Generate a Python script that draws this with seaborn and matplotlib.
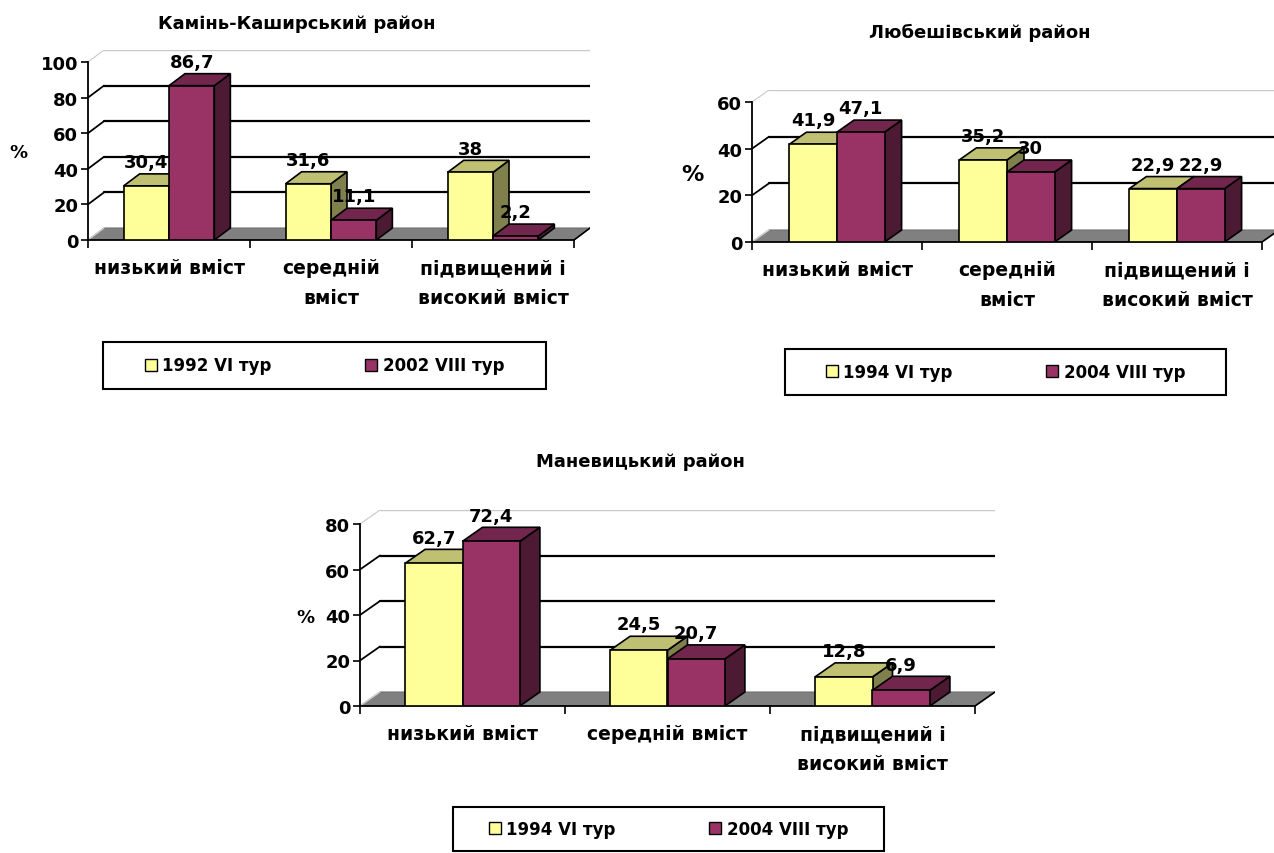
import pandas as pd
import matplotlib.pyplot as plt
import seaborn as sns
from matplotlib.patches import Polygon, Patch, Rectangle

W, H = 1274, 854

cats_two_line = ["низький вміст", "середній\nвміст", "підвищений і\nвисокий вміст"]
cats_one_line = ["низький вміст", "середній вміст", "підвищений і\nвисокий вміст"]

kk_title = "Камінь-Каширський район"
kk_series = ["1992 VI тур", "2002 VIII тур"]
kk_first = [30.4, 31.6, 38]
kk_second = [86.7, 11.1, 2.2]

lb_title = "Любешівський район"
lb_series = ["1994 VI тур", "2004 VIII тур"]
lb_first = [41.9, 35.2, 22.9]
lb_second = [47.1, 30, 22.9]

mn_title = "Маневицький район"
mn_series = ["1994 VI тур", "2004 VIII тур"]
mn_first = [62.7, 24.5, 12.8]
mn_second = [72.4, 20.7, 6.9]

# front, top, side shades
YELLOW = ("#FFFF99", "#C0C073", "#80804D")
PLUM = ("#993366", "#73264D", "#4D1A33")

sns.set_theme(style="white")
plt.rcParams["font.family"] = ["DejaVu Sans"]
plt.rcParams["font.weight"] = "bold"
for k in ["text.color", "axes.labelcolor", "xtick.color", "ytick.color"]:
    plt.rcParams[k] = "black"

fig = plt.figure(figsize=(W / 100, H / 100), dpi=100)


def fmt(v):
    return f"{v:g}".replace(".", ",")


def panel(box, depth, cats, first, second, series, ymax, step, fs=13):
    x0, x1, y0, y1 = box
    dx, dy = depth
    ax = fig.add_axes([x0 / W, 1 - (y0) / H, (x1 + dx - x0) / W, (y0 - y1 + dy) / H])
    ddx = dx * 3 / (x1 - x0)
    ddy = dy * ymax / (y0 - y1)

    df = pd.DataFrame({
        "cat": cats * 2,
        "val": first + second,
        "series": [series[0]] * 3 + [series[1]] * 3,
    })
    sns.barplot(data=df, x="cat", y="val", hue="series",
                palette=[YELLOW[0], PLUM[0]], width=0.56, gap=0,
                saturation=1, edgecolor="black", linewidth=1.2,
                ax=ax, legend=False)
    bars = sorted([p for p in ax.patches if isinstance(p, plt.Rectangle)],
                  key=lambda p: p.get_x())
    ax.set_xlim(-0.5, 2.5 + ddx)
    ax.set_ylim(0, ymax + ddy)
    ax.set_xlabel("")
    ax.set_ylabel("")

    # floor and back wall
    ax.add_patch(Polygon([(-0.5, 0), (2.5, 0), (2.5 + ddx, ddy), (-0.5 + ddx, ddy)],
                         closed=True, facecolor="#808080", edgecolor="#707070",
                         lw=0.8, zorder=0.8))
    ax.plot([-0.5, -0.5 + ddx], [0, ddy], color="#D0D0D0", lw=1, zorder=0.9)
    ax.plot([2.5, 2.5 + ddx], [0, ddy], color="black", lw=1.2, zorder=0.9)
    ticks = list(range(0, ymax + 1, step))
    for t in ticks[1:]:
        top = t == ymax
        c = "#C8C8C8" if top else "black"
        lw = 1 if top else 1.6
        ax.plot([-0.5 + ddx, 2.5 + ddx], [t + ddy, t + ddy], color=c, lw=lw, zorder=1)
        ax.plot([-0.5, -0.5 + ddx], [t, t + ddy], color=c, lw=lw * 0.8, zorder=1)

    # 3d faces on the seaborn bars
    for i, b in enumerate(bars):
        shade = YELLOW if i % 2 == 0 else PLUM
        x, w, h = b.get_x(), b.get_width(), b.get_height()
        z = 3 + i * 0.1
        ax.add_patch(Polygon([(x + w, 0), (x + w, h), (x + w + ddx, h + ddy), (x + w + ddx, ddy)],
                             closed=True, facecolor=shade[2], edgecolor="black", lw=1.2, zorder=z))
        ax.add_patch(Polygon([(x, h), (x + w, h), (x + w + ddx, h + ddy), (x + ddx, h + ddy)],
                             closed=True, facecolor=shade[1], edgecolor="black", lw=1.2, zorder=z))
        b.set_zorder(z + 0.05)
        ax.annotate(fmt(h), (x + w / 2, h + ddy), xytext=(0, 2), textcoords="offset points",
                    ha="center", va="bottom", fontsize=fs, fontweight="bold", zorder=10)

    for s in ["top", "right"]:
        ax.spines[s].set_visible(False)
    ax.spines["left"].set_bounds(0, ymax)
    ax.spines["bottom"].set_bounds(-0.5, 2.5)
    for s in ["left", "bottom"]:
        ax.spines[s].set_color("black")
        ax.spines[s].set_linewidth(1.3)
    ax.set_yticks(ticks)
    ax.set_yticklabels([str(t) for t in ticks], fontsize=fs, fontweight="bold")
    ax.set_xticks([0, 1, 2])
    ax.set_xticklabels(cats, fontsize=13.5, fontweight="bold", linespacing=1.75)
    ax.set_xticks([-0.5, 0.5, 1.5, 2.5], minor=True)
    ax.tick_params(axis="y", left=True, length=5, width=1.2, color="black", pad=2)
    ax.tick_params(axis="x", which="major", length=0, pad=13)
    ax.tick_params(axis="x", which="minor", bottom=True, length=6, width=1.2, color="black")
    return ax


def legend(series, box, spacing):
    # box in pixels: left, top, right, bottom
    l, t, r, b = box
    fig.patches.append(Rectangle((l / W, 1 - b / H), (r - l) / W, (b - t) / H,
                                 transform=fig.transFigure, facecolor="white",
                                 edgecolor="black", lw=1.5, zorder=5))
    handles = [Patch(facecolor=YELLOW[0], edgecolor="black", lw=1),
               Patch(facecolor=PLUM[0], edgecolor="black", lw=1)]
    leg = fig.legend(handles, series, loc="center",
                     bbox_to_anchor=((l + r) / 2 / W, 1 - (t + b) / 2 / H),
                     ncol=2, frameon=False, handlelength=0.7, handleheight=0.7,
                     handletextpad=0.35, columnspacing=spacing, borderpad=0,
                     prop={"size": 12, "weight": "bold"})
    leg.set_zorder(6)


panel((88, 574, 241, 63), (16, 12), cats_two_line, kk_first, kk_second, kk_series, 100, 20)
panel((752, 1262, 243, 103), (17, 12), cats_two_line, lb_first, lb_second, lb_series, 60, 20)
panel((360, 975, 707, 525), (20, 14), cats_one_line, mn_first, mn_second, mn_series, 80, 20)

fig.text(297 / W, 1 - 24 / H, kk_title, ha="center", va="center", fontsize=13, fontweight="bold")
fig.text(980 / W, 1 - 33 / H, lb_title, ha="center", va="center", fontsize=13, fontweight="bold")
fig.text(640 / W, 1 - 462 / H, mn_title, ha="center", va="center", fontsize=13, fontweight="bold")

fig.text(18 / W, 1 - 153 / H, "%", ha="center", va="center", fontsize=13, fontweight="bold")
fig.text(692 / W, 1 - 175 / H, "%", ha="center", va="center", fontsize=16, fontweight="bold")
fig.text(305 / W, 1 - 618 / H, "%", ha="center", va="center", fontsize=13, fontweight="bold")

legend(kk_series, (103, 343, 546, 390), 5.6)
legend(lb_series, (785, 350, 1226, 396), 5.6)
legend(mn_series, (453, 808, 884, 852), 5.6)

fig.savefig("out.png", dpi=100)
